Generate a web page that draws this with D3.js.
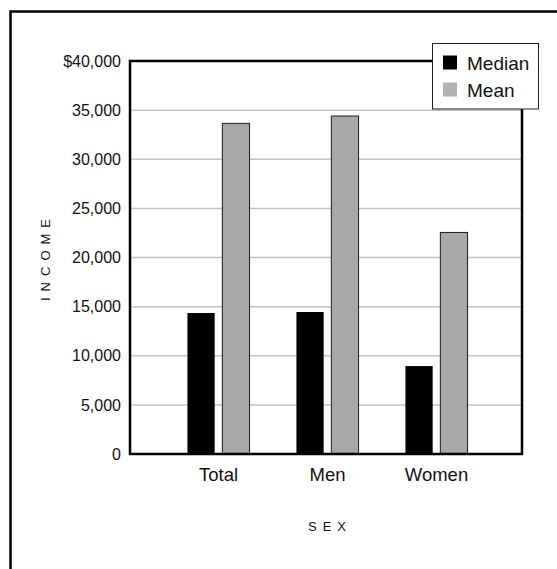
<!DOCTYPE html>
<html>
<head>
<meta charset="utf-8">
<script src="https://cdn.jsdelivr.net/npm/d3@7"></script>
<style>
  html, body { margin: 0; padding: 0; background: #fff; }
  svg { display: block; font-family: "Liberation Sans", Arial, sans-serif; }
</style>
</head>
<body>
<svg id="chart" width="557" height="569"></svg>
<script>
// Income by sex: median and mean
const categories = ["Total", "Men", "Women"];
const seriesNames = ["Median", "Mean"];
const medianValues = [14350, 14450, 8950];
const meanValues = [33650, 34400, 22550];
const yTicks = [0, 5000, 10000, 15000, 20000, 25000, 30000, 35000, 40000];
const yTickLabels = ["0", "5,000", "10,000", "15,000", "20,000", "25,000", "30,000", "35,000", "$40,000"];
const xTitle = "SEX";
const yTitle = "INCOME";

const seriesColors = { Median: "#000000", Mean: "#a8a8a8" };
const legendColors = { Median: "#000000", Mean: "#b2b2b2" };

const rows = categories.map((c, i) => ({ category: c, Median: medianValues[i], Mean: meanValues[i] }));

const svg = d3.select("#chart");

// Outer frame running off the page to the right and bottom
svg.append("rect")
  .attr("x", 10.5).attr("y", 11.5)
  .attr("width", 700).attr("height", 700)
  .attr("fill", "none").attr("stroke", "#000").attr("stroke-width", 2.5);

const plot = { left: 130, right: 522, top: 61, bottom: 454 };

const y = d3.scaleLinear().domain([0, 40000]).range([plot.bottom, plot.top]);

const x0 = d3.scaleBand()
  .domain(categories)
  .range([164, 491])
  .paddingInner(0.43)
  .paddingOuter(0.215);

const x1 = d3.scaleBand()
  .domain(seriesNames)
  .range([0, x0.bandwidth()])
  .paddingInner(0.22);

// Gridlines
svg.append("g")
  .attr("class", "grid")
  .selectAll("line")
  .data(yTicks.filter(t => t > 0 && t < 40000))
  .join("line")
  .attr("x1", plot.left).attr("x2", plot.right)
  .attr("y1", d => y(d)).attr("y2", d => y(d))
  .attr("stroke", "#c4c4c4").attr("stroke-width", 1.5);

// Bars
const groups = svg.append("g")
  .selectAll("g")
  .data(rows)
  .join("g")
  .attr("transform", d => `translate(${x0(d.category)},0)`);

groups.selectAll("rect")
  .data(d => seriesNames.map(k => ({ key: k, value: d[k] })))
  .join("rect")
  .attr("x", d => x1(d.key))
  .attr("y", d => y(d.value))
  .attr("width", x1.bandwidth())
  .attr("height", d => y(0) - y(d.value))
  .attr("fill", d => seriesColors[d.key])
  .attr("stroke", d => d.key === "Mean" ? "#1a1a1a" : "none")
  .attr("stroke-width", 1);

// Plot frame
svg.append("rect")
  .attr("x", plot.left).attr("y", plot.top)
  .attr("width", plot.right - plot.left)
  .attr("height", plot.bottom - plot.top)
  .attr("fill", "none").attr("stroke", "#000").attr("stroke-width", 2.5);

// Y axis labels
const yAxis = d3.axisLeft(y)
  .tickValues(yTicks)
  .tickSize(0)
  .tickPadding(9)
  .tickFormat((d, i) => yTickLabels[i]);

svg.append("g")
  .attr("transform", `translate(${plot.left},0)`)
  .call(yAxis)
  .call(g => g.select(".domain").remove())
  .call(g => g.selectAll("text")
    .attr("font-family", "'Liberation Sans', Arial, sans-serif")
    .attr("font-size", 16)
    .attr("fill", "#111"));

// X axis labels
const xAxis = d3.axisBottom(x0).tickSize(0).tickPadding(14);
svg.append("g")
  .attr("transform", `translate(0,${plot.bottom})`)
  .call(xAxis)
  .call(g => g.select(".domain").remove())
  .call(g => g.selectAll("text")
    .attr("font-family", "'Liberation Sans', Arial, sans-serif")
    .attr("font-size", 18.5)
    .attr("fill", "#111"));

// Axis titles
svg.append("text")
  .attr("x", 330).attr("y", 531)
  .attr("text-anchor", "middle")
  .attr("font-size", 13)
  .attr("letter-spacing", 6)
  .attr("fill", "#111")
  .text(xTitle);

svg.append("text")
  .attr("transform", "translate(50,257) rotate(-90)")
  .attr("text-anchor", "middle")
  .attr("font-size", 13)
  .attr("letter-spacing", 6)
  .attr("fill", "#111")
  .text(yTitle);

// Legend
const legend = svg.append("g").attr("transform", "translate(432,43.5)");
legend.append("rect")
  .attr("x", 0.5).attr("y", 0)
  .attr("width", 106).attr("height", 65.5)
  .attr("fill", "#fff").attr("stroke", "#222").attr("stroke-width", 1);

const items = legend.selectAll("g.item")
  .data(seriesNames)
  .join("g")
  .attr("class", "item")
  .attr("transform", (d, i) => `translate(11,${12 + i * 27})`);

items.append("rect")
  .attr("width", 14).attr("height", 14)
  .attr("fill", d => legendColors[d]);

items.append("text")
  .attr("x", 24).attr("y", 14)
  .attr("font-size", 19)
  .attr("fill", "#111")
  .text(d => d);
</script>
</body>
</html>
